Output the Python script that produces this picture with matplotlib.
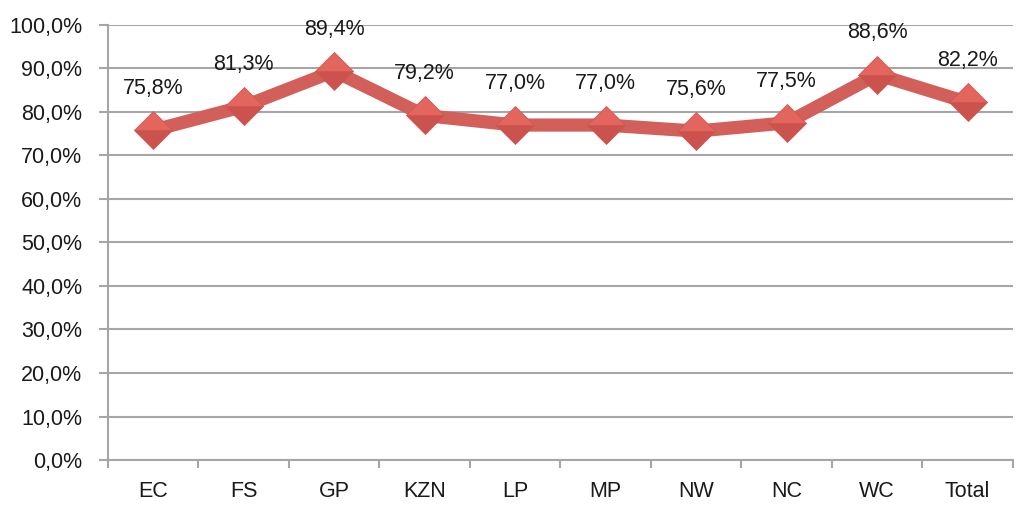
import numpy as np
import matplotlib
matplotlib.use('Agg')
import matplotlib.pyplot as plt
from matplotlib.ticker import FixedLocator

# data
categories = ['EC', 'FS', 'GP', 'KZN', 'LP', 'MP', 'NW', 'NC', 'WC', 'Total']
values = [75.8, 81.3, 89.4, 79.2, 77.0, 77.0, 75.6, 77.5, 88.6, 82.2]
yticks = [0, 10, 20, 30, 40, 50, 60, 70, 80, 90, 100]

plt.rcParams['font.family'] = ['Liberation Sans', 'DejaVu Sans']

fig = plt.figure(figsize=(10.17, 5.07), dpi=100)
ax = fig.add_axes([0.1062, 0.0927, 0.8898, 0.858])

x = np.arange(len(categories))
ax.plot(x, values, color='#D25F5A', linewidth=9.5, solid_joinstyle='round',
        solid_capstyle='round', zorder=3)
# diamonds, light top half and a bit darker bottom half
ax.plot(x, values, linestyle='none', zorder=4,
        marker='D', markersize=19.5, fillstyle='top',
        markerfacecolor='#E4655E', markerfacecoloralt='#CC534D',
        markeredgecolor='#CF5851', markeredgewidth=0.6)

for xi, v in zip(x, values):
    ax.annotate(f'{v:.1f}%'.replace('.', ','), (xi, v), xytext=(0, 30),
                textcoords='offset points', ha='center', va='center',
                fontsize=15.5, color='#1a1a1a')

ax.set_xlim(-0.5, len(categories) - 0.5)
ax.set_ylim(0, 100)
ax.set_yticks(yticks)
ax.set_yticklabels([f'{t:.1f}%'.replace('.', ',') for t in yticks])
ax.set_xticks(x)
ax.set_xticklabels(categories)
ax.xaxis.set_minor_locator(FixedLocator(np.arange(len(categories) + 1) - 0.5))

ax.grid(axis='y', color='#A6A6A6', linewidth=1.5)
ax.set_axisbelow(True)
for s in ['top', 'right']:
    ax.spines[s].set_visible(False)
for s in ['left', 'bottom']:
    ax.spines[s].set_color('#A6A6A6')
    ax.spines[s].set_linewidth(1.5)

ax.tick_params(axis='y', length=6.5, width=1.5, color='#A6A6A6', pad=12,
               labelsize=15.5, labelcolor='#1a1a1a')
ax.tick_params(axis='x', which='major', length=0, pad=15,
               labelsize=15.5, labelcolor='#1a1a1a')
ax.tick_params(axis='x', which='minor', length=6, width=1.5, color='#A6A6A6')

fig.savefig('out.png', dpi=100)
